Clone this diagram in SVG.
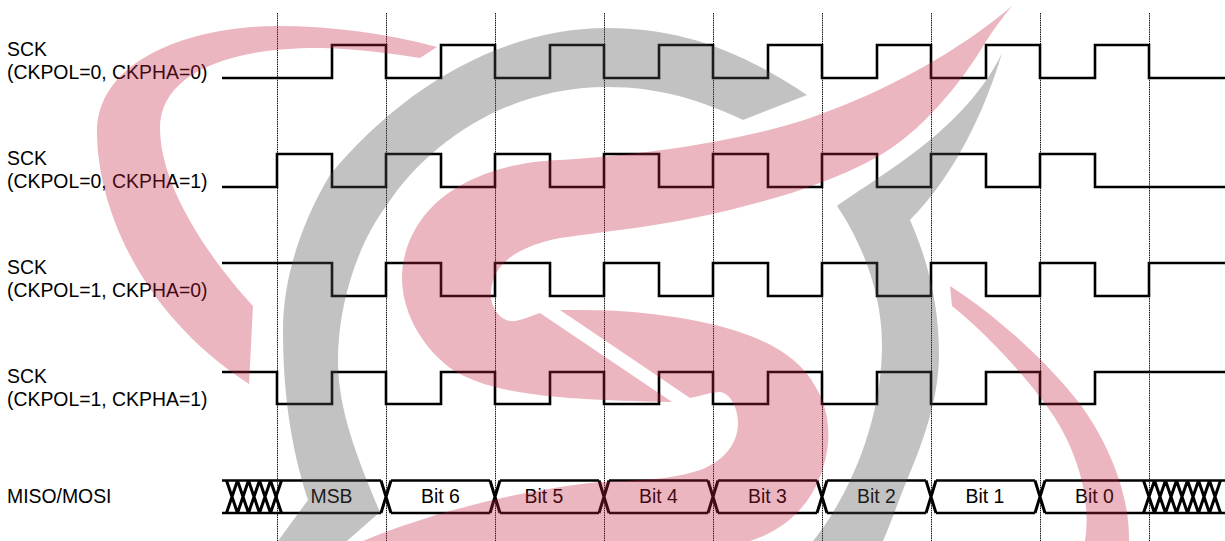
<svg xmlns="http://www.w3.org/2000/svg" width="1225" height="541" viewBox="0 0 1225 541">
<style>
.t{font-family:"Liberation Sans",Arial,sans-serif;font-size:19.4px;fill:#000}
.m{text-anchor:middle}
.w{fill:none;stroke:#000;stroke-width:2.6;stroke-linejoin:miter}
.x{stroke-width:3}
.g{fill:none;stroke:#111;stroke-width:1;stroke-dasharray:1.5 .8}
.p{fill:#c5213f;fill-opacity:.33}
.y{fill:#515151;fill-opacity:.35}
</style>
<rect width="1225" height="541" fill="#fff"/>
<g id="grid">
<path class="g" d="M277.5 13V541M386.5 13V541M495.5 13V541M604.5 13V541M713.5 13V541M822.5 13V541M931.5 13V541M1040.5 13V541M1149.5 13V541"/>
</g>
<g id="sck-00">
<text class="t" x="7" y="56">SCK</text><text class="t" x="7" y="79">(CKPOL=0, CKPHA=0)</text>
<path class="w" d="M222 78H332V45H386V78H441V45H495V78H550V45H604V78H659V45H713V78H768V45H822V78H877V45H931V78H986V45H1040V78H1095V45H1149V78H1225"/>
</g>
<g id="sck-01">
<text class="t" x="7" y="165">SCK</text><text class="t" x="7" y="188">(CKPOL=0, CKPHA=1)</text>
<path class="w" d="M222 187H277V154H332V187H386V154H441V187H495V154H550V187H604V154H659V187H713V154H768V187H822V154H877V187H931V154H986V187H1040V154H1095V187H1225"/>
</g>
<g id="sck-10">
<text class="t" x="7" y="274">SCK</text><text class="t" x="7" y="297">(CKPOL=1, CKPHA=0)</text>
<path class="w" d="M222 263H332V296H386V263H441V296H495V263H550V296H604V263H659V296H713V263H768V296H822V263H877V296H931V263H986V296H1040V263H1095V296H1149V263H1225"/>
</g>
<g id="sck-11">
<text class="t" x="7" y="383">SCK</text><text class="t" x="7" y="406">(CKPOL=1, CKPHA=1)</text>
<path class="w" d="M222 372H277V404H332V372H386V404H441V372H495V404H550V372H604V404H659V372H713V404H768V372H822V404H877V372H931V404H986V372H1040V404H1095V372H1225"/>
</g>
<g id="miso-mosi">
<text class="t" x="7" y="503">MISO/MOSI</text>
<path class="w" d="M222 480.5H381M391 480.5H490M500 480.5H599M609 480.5H708M718 480.5H817M827 480.5H926M936 480.5H1035M1045 480.5H1225M222 513H381M391 513H490M500 513H599M609 513H708M718 513H817M827 513H926M936 513H1035M1045 513H1225"/>
<path class="w x" d="M381 480.5L391 513M391 480.5L381 513M490 480.5L500 513M500 480.5L490 513M599 480.5L609 513M609 480.5L599 513M708 480.5L718 513M718 480.5L708 513M817 480.5L827 513M827 480.5L817 513M926 480.5L936 513M936 480.5L926 513M1035 480.5L1045 513M1045 480.5L1035 513"/>
<path class="w x" d="M226.5 480.5L237.5 513M237.5 480.5L226.5 513M237.5 480.5L248.5 513M248.5 480.5L237.5 513M248.5 480.5L259.5 513M259.5 480.5L248.5 513M259.5 480.5L270.5 513M270.5 480.5L259.5 513M270.5 480.5L281.5 513M281.5 480.5L270.5 513"/>
<path class="w x" d="M1143.5 480.5L1154.5 513M1154.5 480.5L1143.5 513M1154.5 480.5L1165.5 513M1165.5 480.5L1154.5 513M1165.5 480.5L1176.5 513M1176.5 480.5L1165.5 513M1176.5 480.5L1187.5 513M1187.5 480.5L1176.5 513M1187.5 480.5L1198.5 513M1198.5 480.5L1187.5 513M1198.5 480.5L1209.5 513M1209.5 480.5L1198.5 513M1209.5 480.5L1220.5 513M1220.5 480.5L1209.5 513"/>
<text class="t m" x="331.5" y="503">MSB</text>
<text class="t m" x="440.5" y="503">Bit 6</text>
<text class="t m" x="544" y="503">Bit 5</text>
<text class="t m" x="658.5" y="503">Bit 4</text>
<text class="t m" x="767.5" y="503">Bit 3</text>
<text class="t m" x="876.5" y="503">Bit 2</text>
<text class="t m" x="985" y="503">Bit 1</text>
<text class="t m" x="1094.5" y="503">Bit 0</text>
</g>
<g id="watermark">
<path class="p" d="M437 47C385 33 330 26 277 26C190 26 97 60 97 132C97 200 135 310 249 384L253 306C215 265 160 190 160 128C160 75 225 47 323 48C355 49 390 53 420 58Z"/>
<path class="y" d="M807 95C740 50 680 28 607 28C500 28 400 90 330 175C300 225 283 280 283 330C283 390 290 445 308 500L278 541H347L380 512C358 460 338 410 338 361C338 300 360 240 387 205C430 140 510 87 607 87C660 87 700 100 743 120Z"/>
<path class="y" d="M1002 53C985 110 955 175 910 220C930 265 939 310 939 354C939 400 922 445 905 485C897 505 890 525 883 541H813C850 495 882 420 882 345C882 290 860 240 837 206C880 175 965 130 1002 53Z"/>
<path class="p" d="M1012 6C960 50 890 90 810 118C740 142 640 155 560 160C510 162 475 175 450 192C420 212 402 245 402 278C402 310 420 345 450 368C490 395 560 400 672 402L540 313C528 317 518 322 510 321C498 319 490 305 491 293C492 262 520 246 560 238C610 231 680 224 745 206C790 195 840 178 877 157C920 133 960 85 985 43C993 30 1003 17 1012 6Z"/>
<path class="p" d="M560 310L690 398C700 396 712 392 720 392C732 394 738 410 738 423C738 445 722 462 700 470C670 480 640 480 600 482C540 488 450 505 363 541H750C785 530 812 505 823 468C832 440 830 410 815 386C790 340 720 320 633 312C610 310 585 310 560 310Z"/>
<path class="p" d="M950 286L952 306C985 332 1030 380 1055 418C1075 450 1092 495 1085 541H1129C1130 490 1105 438 1080 404C1050 365 1000 318 950 286Z"/>
</g>
</svg>
